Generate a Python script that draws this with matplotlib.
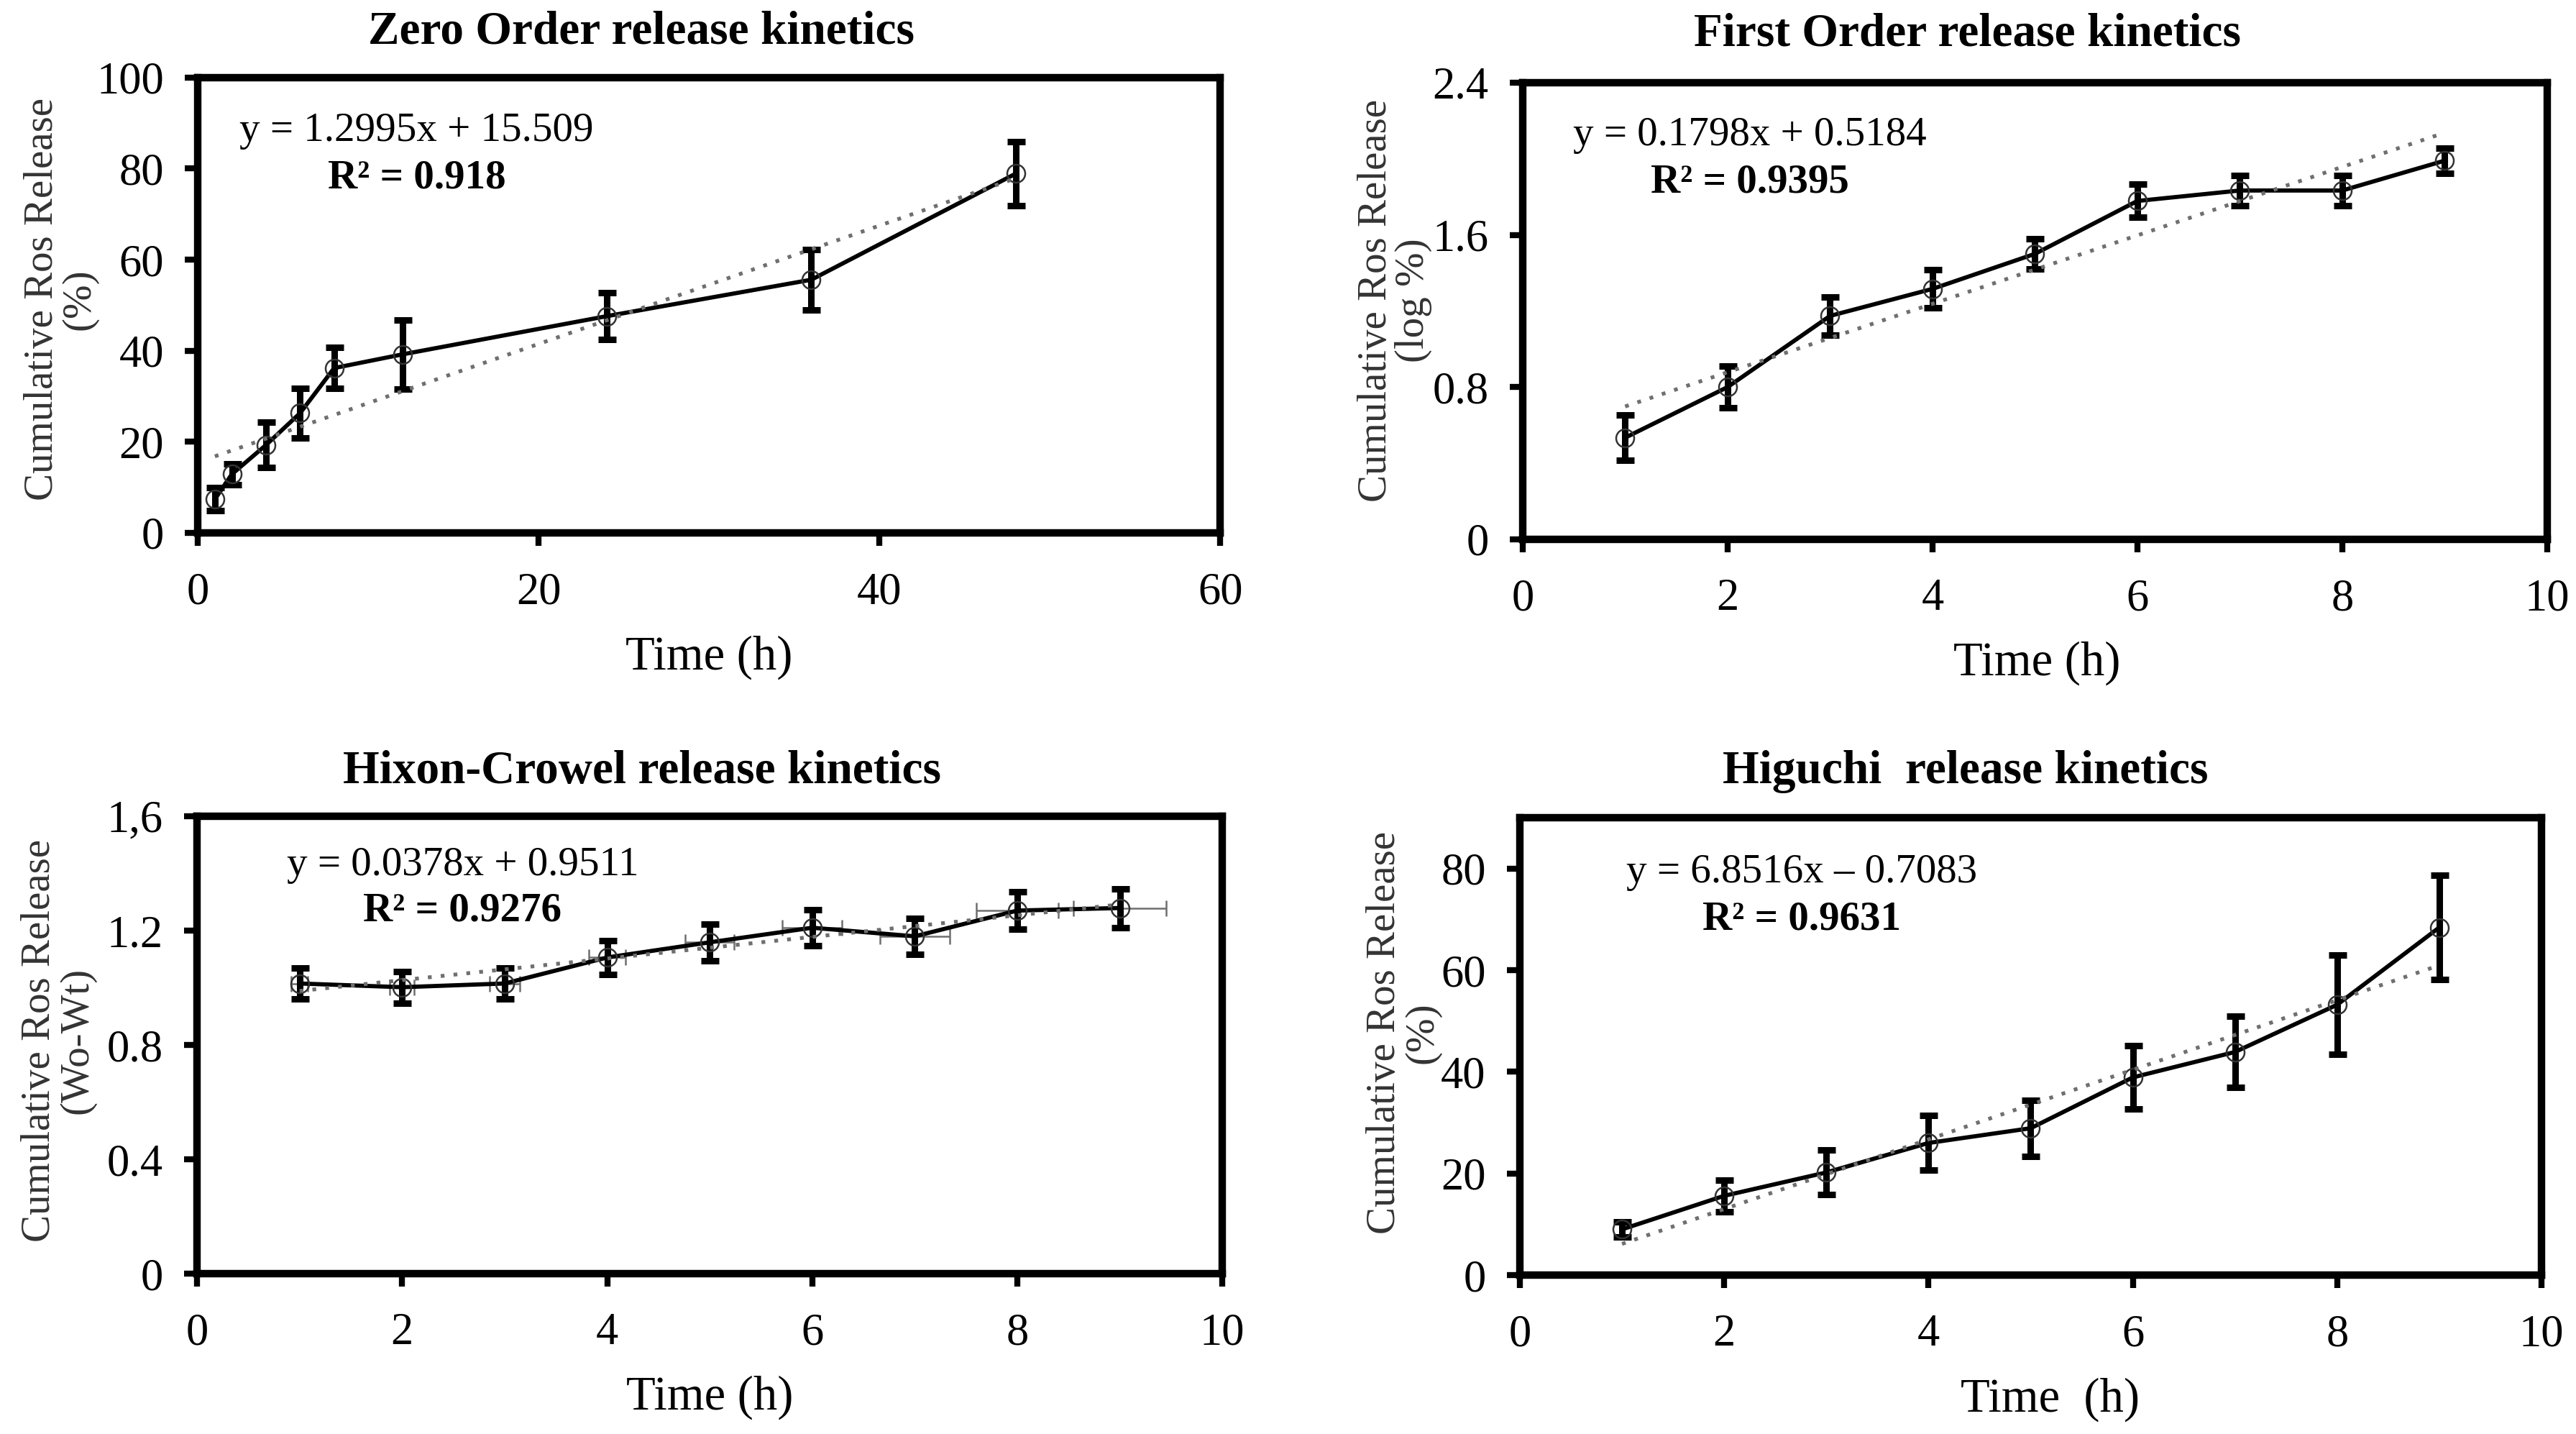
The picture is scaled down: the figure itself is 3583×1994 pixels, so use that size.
import numpy as np
import matplotlib
matplotlib.use("Agg")
import matplotlib.pyplot as plt

plt.rcParams['font.family'] = ['Liberation Serif', 'DejaVu Serif']

# Zero order
zero_t = [1, 2, 4, 6, 8, 12, 24, 36, 48]
zero_y = [7.4, 12.9, 19.3, 26.3, 36.2, 39.2, 47.6, 55.6, 78.9]
zero_err = [2.5, 2.3, 5.0, 5.4, 4.5, 7.6, 5.1, 6.7, 7.1]
zero_fit = (1.2995, 15.509)

# First order
first_t = [1, 2, 3, 4, 5, 6, 7, 8, 9]
first_y = [0.534, 0.80, 1.174, 1.316, 1.50, 1.778, 1.833, 1.833, 1.99]
first_err = [0.12, 0.11, 0.10, 0.10, 0.08, 0.087, 0.08, 0.08, 0.065]
first_fit = (0.1798, 0.5184)

# Hixon-Crowell
hixon_t = [1, 2, 3, 4, 5, 6, 7, 8, 9]
hixon_y = [1.015, 1.002, 1.015, 1.106, 1.159, 1.21, 1.18, 1.27, 1.279]
hixon_err = [0.055, 0.055, 0.055, 0.06, 0.064, 0.063, 0.063, 0.066, 0.068]
hixon_xerr = [0.08, 0.12, 0.15, 0.18, 0.24, 0.29, 0.34, 0.40, 0.45]
hixon_fit = (0.0378, 0.9511)

# Higuchi
higuchi_t = [1, 2, 3, 4, 5, 6, 7, 8, 9]
higuchi_y = [9.0, 15.6, 20.2, 26.0, 28.9, 38.9, 43.9, 53.2, 68.4]
higuchi_err = [1.5, 3.1, 4.4, 5.4, 5.5, 6.2, 7.0, 9.8, 10.3]
higuchi_fit = (6.8516, -0.7083)

fig = plt.figure(figsize=(35.83, 19.94), dpi=100)

panels = [
    dict(rect=[0.0768, 0.6284, 0.3969, 0.3175], t=zero_t, y=zero_y, e=zero_err, fit=zero_fit,
         title="Zero Order release kinetics", eq="y = 1.2995x + 15.509", r2="R² = 0.918",
         xlim=(0, 60), xticks=[0, 20, 40, 60], ylim=(0, 100), yticks=[0, 20, 40, 60, 80, 100],
         ylabels=["0", "20", "40", "60", "80", "100"], unit="(%)", xlabel="Time (h)",
         eqpos=(0.214, 0.883, 0.779), titlepos=(0.434, 1.100), ylpos=(-0.134, 0.513), xlpos=(0.5, -0.273)),
    dict(rect=[0.5911, 0.6239, 0.3977, 0.3185], t=first_t, y=first_y, e=first_err, fit=first_fit,
         title="First Order release kinetics", eq="y = 0.1798x + 0.5184", r2="R² = 0.9395",
         xlim=(0, 10), xticks=[0, 2, 4, 6, 8, 10], ylim=(0, 2.4), yticks=[0, 0.8, 1.6, 2.4],
         ylabels=["0", "0.8", "1.6", "2.4"], unit="(log %)", xlabel="Time (h)",
         eqpos=(0.222, 0.885, 0.781), titlepos=(0.434, 1.106), ylpos=(-0.125, 0.523), xlpos=(0.502, -0.272)),
    dict(rect=[0.0765, 0.1118, 0.3980, 0.3190], t=hixon_t, y=hixon_y, e=hixon_err, fit=hixon_fit,
         title="Hixon-Crowel release kinetics", eq="y = 0.0378x + 0.9511", r2="R² = 0.9276",
         xlim=(0, 10), xticks=[0, 2, 4, 6, 8, 10], ylim=(0, 1.6), yticks=[0, 0.4, 0.8, 1.2, 1.6],
         ylabels=["0", "0.4", "0.8", "1.2", "1,6"], unit="(Wo-Wt)", xlabel="Time (h)",
         eqpos=(0.259, 0.893, 0.794), titlepos=(0.434, 1.097), ylpos=(-0.135, 0.509), xlpos=(0.5, -0.270)),
    dict(rect=[0.5900, 0.1108, 0.3966, 0.3190], t=higuchi_t, y=higuchi_y, e=higuchi_err, fit=higuchi_fit,
         title="Higuchi  release kinetics", eq="y = 6.8516x – 0.7083", r2="R² = 0.9631",
         xlim=(0, 10), xticks=[0, 2, 4, 6, 8, 10], ylim=(0, 90), yticks=[0, 20, 40, 60, 80],
         ylabels=["0", "20", "40", "60", "80"], unit="(%)", xlabel="Time  (h)",
         eqpos=(0.276, 0.880, 0.778), titlepos=(0.436, 1.100), ylpos=(-0.114, 0.530), xlpos=(0.519, -0.272)),
]

for i, p in enumerate(panels):
    ax = fig.add_axes(p['rect'])
    t = np.array(p['t'], dtype=float)
    y = np.array(p['y'])

    if i == 2:
        ax.errorbar(t, y, xerr=hixon_xerr, fmt='none', ecolor='#6e6e6e',
                    elinewidth=1.8, capsize=8, capthick=1.8, zorder=2)
    ax.errorbar(t, y, yerr=p['e'], fmt='none', ecolor='black',
                elinewidth=6.5, capsize=9, capthick=6.5, zorder=3)
    ax.plot(t, y, '-', color='black', lw=4.2, zorder=4)
    ax.plot(t, y, 'o', mfc='none', mec='#333333', ms=18, mew=1.8, zorder=5)

    # trendline from the fitted equation shown on the chart
    slope, icpt = p['fit']
    tx = np.array([t[0], t[-1]])
    ax.plot(tx, slope * tx + icpt, color='#6f6f6f', lw=3.8,
            linestyle=(0, (1, 2.4)), zorder=6)

    ax.set_xlim(*p['xlim'])
    ax.set_ylim(*p['ylim'])
    ax.set_xticks(p['xticks'])
    ax.set_xticklabels([str(v) for v in p['xticks']])
    ax.set_yticks(p['yticks'])
    ax.set_yticklabels(p['ylabels'])
    ax.tick_params(axis='both', direction='out', length=13, width=6,
                   labelsize=45, colors='black')
    ax.tick_params(axis='x', pad=26)
    ax.tick_params(axis='y', pad=21)
    for s in ax.spines.values():
        s.set_linewidth(7.5)
        s.set_color('black')

    ax.set_xlabel(p['xlabel'], fontsize=48)
    ax.xaxis.set_label_coords(*p['xlpos'])
    ax.xaxis.label.set_va('center')

    ax.set_ylabel("Cumulative Ros Release\n" + p['unit'], fontsize=41,
                  color='#333333', linespacing=1.0)
    ax.yaxis.set_label_coords(*p['ylpos'])
    ax.yaxis.label.set_va('center')

    ex, ey, ry = p['eqpos']
    ax.text(ex, ey, p['eq'], transform=ax.transAxes, ha='center', va='center', fontsize=41)
    ax.text(ex, ry, p['r2'], transform=ax.transAxes, ha='center', va='center',
            fontsize=41, fontweight='bold')

    tx_, ty_ = p['titlepos']
    ax.text(tx_, ty_, p['title'], transform=ax.transAxes, ha='center', va='center',
            fontsize=47, fontweight='bold')

fig.savefig('out.png', dpi=100, facecolor='white')
